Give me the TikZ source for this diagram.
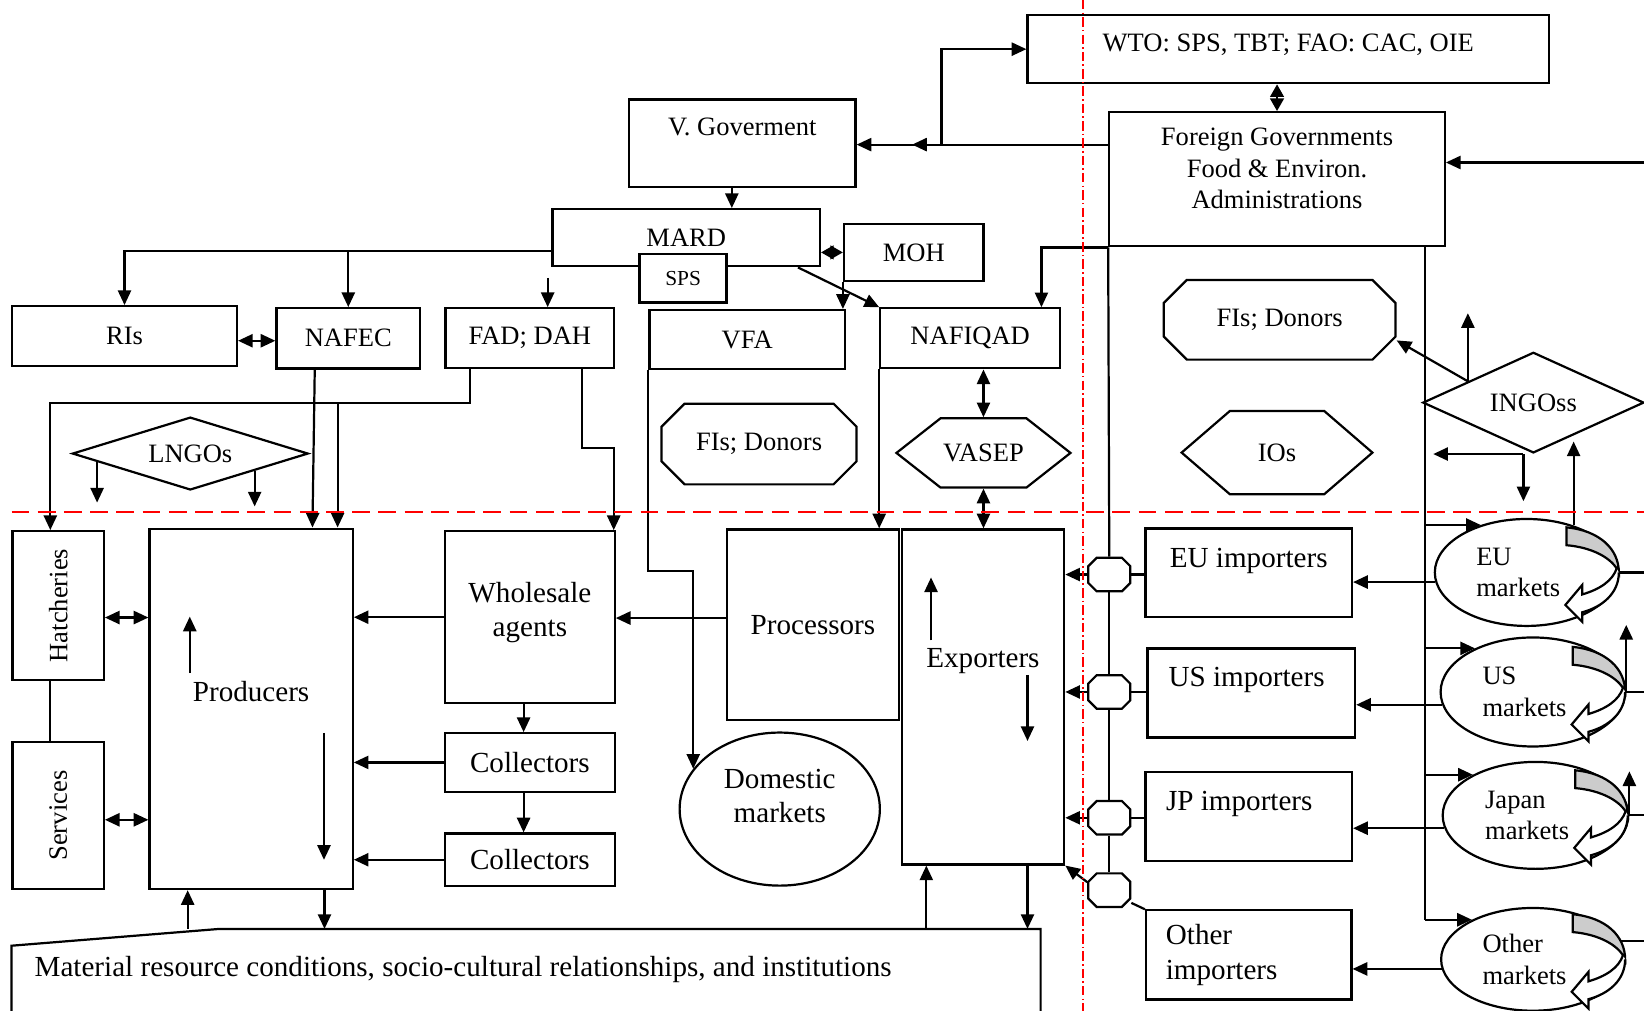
\documentclass[tikz,border=0pt]{standalone}
\usepackage{fontspec}
\setmainfont{Liberation Serif}
\usepackage{graphicx}
\usetikzlibrary{arrows.meta,shapes.geometric}
\newcommand{\octa}[7]{% name, cx, cy, half width, half height, cut, text
  \draw[fill=white] (#2-#4+#6,#3-#5) -- (#2+#4-#6,#3-#5) -- (#2+#4,#3-#5+#6)
    -- (#2+#4,#3+#5-#6) -- (#2+#4-#6,#3+#5) -- (#2-#4+#6,#3+#5)
    -- (#2-#4,#3+#5-#6) -- (#2-#4,#3-#5+#6) -- cycle;
  \node[minimum width=#4*0.2mm, minimum height=#5*0.2mm, inner sep=0pt] (#1) at (#2,#3) {#7};}
\newcommand{\hexa}[7]{% name, cx, cy, half width, half height, inset, text
  \draw[fill=white] (#2-#4,#3) -- (#2-#4+#6,#3-#5) -- (#2+#4-#6,#3-#5) -- (#2+#4,#3)
    -- (#2+#4-#6,#3+#5) -- (#2-#4+#6,#3+#5) -- cycle;
  \node[minimum width=#4*0.2mm, minimum height=#5*0.2mm, inner sep=0pt] (#1) at (#2,#3) {#7};}
\newcommand{\swirl}[2]{% cx, cy of a market
  \draw[fill=black!20] (#1+38,#2-43) .. controls (#1+70,#2-40) and (#1+88,#2-22) .. (#1+88,#2)
    .. controls (#1+82,#2-14) and (#1+62,#2-24) .. (#1+38,#2-26) -- cycle;
  \draw[fill=white] (#1+88,#2) .. controls (#1+88,#2+20) and (#1+72,#2+33) .. (#1+53,#2+38)
    -- (#1+53,#2+47) -- (#1+37,#2+31) -- (#1+53,#2+12) -- (#1+53,#2+21)
    .. controls (#1+70,#2+16) and (#1+82,#2+8) .. (#1+86,#2-4);}
\newcommand{\lift}[2]{\raisebox{#1}[0pt][0pt]{\begin{tabular}{@{}c@{}}#2\end{tabular}}}
\tikzset{
  box/.style={draw, fill=white, inner sep=0pt},
  chain/.style={font=\fontsize{7.9}{9.3}\selectfont},
  arr/.style={-{Triangle[length=1.4mm,width=1.25mm]}},
  dbl/.style={{Triangle[length=1.4mm,width=1.25mm]}-{Triangle[length=1.4mm,width=1.25mm]}},
  dia/.style={{Triangle[length=1.2mm,width=1.3mm]}-{Triangle[length=1.2mm,width=1.3mm]}},
  mkt/.style={ellipse, draw, fill=white, inner sep=0pt, align=left, text width=9.6mm,
              minimum width=17.5mm, minimum height=10.2mm},
  ngo/.style={diamond, draw, fill=white, inner sep=0pt},
  redh/.style={red, line width=0.6pt, dash pattern=on 1.7mm off 0.8mm},
  redv/.style={red, line width=0.5pt, dash pattern=on 0.9mm off 0.3mm on 0.15mm off 0.3mm},
}
\begin{document}
\begin{tikzpicture}[x=0.1mm, y=-0.1mm, line width=0.6pt, font=\fontsize{7.2}{8.5}\selectfont]
  \useasboundingbox (0,0) rectangle (1568,964);

  % --- institutions ----------------------------------------------------
  \node[box, minimum width=49.75mm, text height=3.5mm, text depth=3.0mm] (wto) at (1228.75,46.9) {WTO: SPS, TBT; FAO: CAC, OIE};
  \node[box, minimum width=32mm, minimum height=12.8mm] (fg) at (1218,171) {\lift{0.17mm}{Foreign Governments\\Food \& Environ.\\Administrations}};
  \node[box, minimum width=21.6mm, text height=3.4mm, text depth=4.9mm] (vg) at (708,136.5) {V. Goverment};
  \node[box, minimum width=25.5mm, minimum height=5.45mm] (mard) at (654.5,226.75) {MARD};
  \node[box, font=\fontsize{5.8}{7}\selectfont, minimum width=8.3mm, minimum height=4.6mm] (sps) at (651.5,265.5) {SPS};
  \node[box, minimum width=13.3mm, minimum height=5.45mm] (moh) at (871.5,240.75) {MOH};
  \node[box, minimum width=21.45mm, minimum height=5.7mm] (ris) at (118.75,320.5) {RIs};
  \node[box, minimum width=13.7mm, minimum height=5.75mm] (nafec) at (332.2,322.7) {NAFEC};
  \node[box, minimum width=16.07mm, minimum height=5.7mm] (fad) at (505.35,322.5) {FAD; DAH};
  \node[box, minimum width=18.66mm, minimum height=5.66mm] (vfa) at (712.7,324) {VFA};
  \node[box, minimum width=17.14mm, minimum height=5.73mm] (nafiqad) at (925.3,322.7) {NAFIQAD};
  \octa{fil}{724}{423.5}{93}{38.5}{22}{FIs; Donors}
  \octa{fir}{1220.5}{305}{110.5}{38}{22}{FIs; Donors}
  \hexa{vasep}{938}{432}{83}{33}{42}{VASEP}
  \hexa{ios}{1218}{431.7}{91}{39.7}{46}{IOs}
  \node[ngo, minimum width=22.5mm, minimum height=6.95mm, shape aspect=3.2] (lngo) at (181.5,432.6) {LNGOs};

  % --- chain -----------------------------------------------------------
  \node[box, minimum width=8.7mm, minimum height=14.17mm] (hat) at (55.5,577.5) {\rotatebox{90}{Hatcheries}};
  \node[box, minimum width=8.7mm, minimum height=14.03mm] (ser) at (55.5,777.9) {\rotatebox{90}{Services}};
  \node[box, chain, minimum width=19.38mm, text height=16.5mm, text depth=17.88mm] (prod) at (239.5,676.1) {Producers};
  \node[box, chain, minimum width=16.18mm, minimum height=16.4mm] (whole) at (505.4,588.7) {\lift{-0.3mm}{Wholesale\\agents}};
  \node[box, chain, minimum width=16.18mm, minimum height=5.57mm] (coll1) at (505.4,727.2) {Collectors};
  \node[box, chain, minimum width=16.18mm, minimum height=5.0mm] (coll2) at (505.4,820) {Collectors};
  \node[box, chain, minimum width=16.47mm, minimum height=18.2mm] (proc) at (775.4,596) {Processors};
  \node[box, chain, minimum width=15.5mm, text height=13.2mm, text depth=18.75mm] (exp) at (937.5,664.75) {Exporters};
  \node[ellipse, draw, fill=white, chain, inner sep=0pt, minimum width=19.1mm, minimum height=14.6mm] (dom) at (743.7,771.7) {\lift{0.3mm}{Domestic\\markets}};

  % --- importers and markets ------------------------------------------
  \node[box, chain, minimum width=19.7mm, text height=3.7mm, text depth=4.77mm] (eui) at (1191,546.5) {EU importers};
  \node[box, chain, minimum width=19.8mm, text height=3.65mm, text depth=4.83mm] (usi) at (1193.5,661) {US importers\hspace*{0.9mm}};
  \node[box, chain, minimum width=19.7mm, text height=3.65mm, text depth=4.82mm] (jpi) at (1191,778.8) {JP importers\hspace*{1.8mm}};
  \node[box, chain, align=left, text width=15.8mm, inner xsep=1.9mm, minimum height=8.5mm] (oti) at (1191,910.8) {Other\\importers};
  \node[mkt] (eum) at (1456,546) {EU\\markets};
  \node[mkt, minimum width=17.6mm, minimum height=10.4mm] (usm) at (1462,660) {US\\markets};
  \node[mkt, minimum width=17.7mm] (jpm) at (1464.5,777.7) {Japan\\markets};
  \node[mkt, minimum height=9.8mm] (otm) at (1462,915) {Other\\markets};
  \swirl{1456}{546}
  \swirl{1462}{660}
  \swirl{1464.5}{777.7}
  \swirl{1462}{915}

  \coordinate (rim) at (1568,0);
  \coordinate (rsp) at ([xshift=-2mm]fg.south east);
  \draw (rsp) -- (rsp |- otm.147);
  \node[ngo, minimum width=21.1mm, minimum height=9.6mm, shape aspect=2.2] (ingo) at (1462.5,384) {INGOss};
  \octa{o1}{1058}{548}{20}{16}{8}{}
  \octa{o2}{1058}{660}{20}{16}{8}{}
  \octa{o3}{1058}{780}{20}{16}{8}{}
  \octa{o4}{1058}{849}{20}{16}{8}{}
  \draw (fg.south west) -- (o1.north);
  \draw (o1.south) -- (o2.north);
  \draw (o2.south) -- (o3.north);
  \draw (o3.south) -- (o4.north);

  % --- material base ---------------------------------------------------
  \draw (11,902) coordinate (matA) -- (209,886) coordinate (matB) -- (992.5,886) coordinate (matC)
    -- (992.5,990) -- (11,990) -- cycle;
  \node[chain, anchor=west, inner sep=0pt] (mat) at (32,925) {Material resource conditions, socio-cultural relationships, and institutions};

  % --- links above -----------------------------------------------------
  \coordinate (fgw) at ([yshift=-3.2mm]fg.north west);
  \draw[arr] (fgw) -- (fgw -| vg.east);
  \draw[arr] (fgw) -- ++(-187,0);
  \draw[arr] (fgw) ++(-159,0) |- (wto.west);
  \draw[dia] (wto.south -| fg.north) -- (fg.north);
  \coordinate (fgin) at ([yshift=1.6mm]fg.east);
  \draw[arr] (fgin -| rim) -- (fgin);
  \draw[arr] ([xshift=-1mm]vg.south) -- ([xshift=-1mm]vg.south |- mard.north);
  \draw[dia] (mard.east |- moh.west) -- (moh.west);
  \coordinate (mardl) at ([yshift=-1.3mm]mard.west);
  \draw[arr] (mardl) -| (ris.north);
  \draw[arr] (nafec.north |- mardl) -- (nafec.north);
  \draw[arr] ([xshift=1.7mm,yshift=2.8mm]fad.north) -- ([xshift=1.7mm]fad.north);
  \draw[dbl] (ris.east |- 0,325) -- (nafec.west |- 0,325);
  \draw[arr] ([xshift=-2.2mm]mard.south east) -- (nafiqad.north west);
  \draw[arr] (moh.south west) -- (moh.south west |- vfa.north);
  \draw[arr] (fg.south west) -| ([xshift=6.8mm]nafiqad.north);
  \draw[dbl] (vasep.north |- nafiqad.south) -- (vasep.north);
  \draw[dbl] (vasep.south) -- (vasep.south |- exp.north);
  \draw[arr] (nafiqad.south west) -- (nafiqad.south west |- proc.north);
  \draw[arr] (vfa.south west) -- ++(0,191) -| (dom.155);
  \coordinate (fadl) at ([xshift=2.4mm]fad.south west);
  \coordinate (fadk) at ([yshift=-3.2mm]fadl);
  \coordinate (prodk) at ([xshift=8.25mm]prod.north);
  \draw[arr] (fadl) -- (fadk) -| ([xshift=-0.75mm]hat.north);
  \draw[arr] (prodk |- fadk) -- (prodk);
  \draw[arr] ([xshift=-3.2mm]nafec.south) -- ([xshift=5.85mm]prod.north);
  \draw[arr] ([xshift=-3.2mm]fad.south east) -- ++(0,75) -| ([xshift=-0.2mm]whole.north east);
  \draw[arr] (lngo.185) -- ++(0,39);
  \draw[arr] (lngo.-15) -- ++(0,34);
  \draw[arr] (ingo.162) -- (fir.-10);
  \draw[arr] (ingo.162) -- ++(0,-65);
  \coordinate (ingb) at ([xshift=-0.95mm]ingo.south);
  \draw[arr] (ingb) -- ++(-86,0);
  \draw[arr] (ingb) -- ++(0,45);

  % --- links in the chain ----------------------------------------------
  \draw ([xshift=-0.75mm]hat.south) -- ([xshift=-0.75mm]ser.north);
  \coordinate (hate) at ([yshift=-1.15mm]hat.east);
  \coordinate (sere) at ([yshift=-0.4mm]ser.east);
  \draw[dbl] (hate) -- (hate -| prod.west);
  \draw[dbl] (sere) -- (sere -| prod.west);
  \draw[arr] (whole.west) -- (whole.west -| prod.east);
  \coordinate (procw) at ([yshift=0.65mm]proc.west);
  \draw[arr] (procw) -- (procw -| whole.east);
  \draw[arr] (coll1.west) -- (coll1.west -| prod.east);
  \draw[arr] (coll2.west) -- (coll2.west -| prod.east);
  \draw[arr] ([xshift=-0.6mm]whole.south) -- ([xshift=-0.6mm]coll1.north);
  \draw[arr] ([xshift=-0.6mm]coll1.south) -- ([xshift=-0.6mm]coll2.north);
  \draw[arr] (prod.center) ++(-58.5,-34) -- ++(0,-54);
  \draw[arr] (prod.center) ++(69.5,23) -- ++(0,121);
  \draw[arr] (exp.center) ++(-49.5,-54) -- ++(0,-60);
  \draw[arr] (exp.center) ++(42.5,-21) -- ++(0,63);
  \coordinate (pm1) at ([xshift=-6.05mm]prod.south);
  \coordinate (pm2) at ([xshift=7mm]prod.south);
  \coordinate (em1) at ([xshift=-5.4mm]exp.south);
  \coordinate (em2) at ([xshift=4.25mm]exp.south);
  \draw[arr] (pm1 |- matB) -- (pm1);
  \draw[arr] (pm2) -- (pm2 |- matB);
  \draw[arr] (em1 |- matC) -- (em1);
  \draw[arr] (em2) -- (em2 |- matC);

  % --- links on the import side ----------------------------------------
  \draw[arr] (o1.west) -- (o1.west -| exp.east);
  \draw[arr] (o2.west) -- (o2.west -| exp.east);
  \draw[arr] (o3.west) -- (o3.west -| exp.east);
  \draw[arr] (o4.160) -- (exp.south east);
  \draw (o1.east) -- (o1.east -| eui.west);
  \draw (o2.east) -- (o2.east -| usi.west);
  \draw (o3.east) -- (o3.east -| jpi.west);
  \draw (o4.-30) -- (oti.north west);
  \draw[arr] (rsp |- eum.134) -- (eum.134);
  \draw[arr] (rsp |- usm.143) -- (usm.143);
  \draw[arr] (rsp |- jpm.147) -- (jpm.147);
  \draw[arr] (rsp |- otm.147) -- (otm.147);
  \draw[arr] (eum.186) -- (eum.186 -| eui.east);
  \draw[arr] (usm.188) -- (usm.188 -| usi.east);
  \draw[arr] (jpm.188) -- (jpm.188 -| jpi.east);
  \draw[arr] (otm.186) -- (otm.186 -| oti.east);
  \draw (eum.east) -- (eum.east -| rim);
  \draw (usm.east) -- (usm.east -| rim);
  \draw (jpm.east) -- (jpm.east -| rim);
  \draw (otm.12) -- (otm.12 -| rim);
  \draw[arr] (usm.east) -- ++(0,-64);
  \draw[arr] (jpm.east) -- ++(0,-42);
  \draw[arr] (eum.45) -- ++(0,-80);

  % --- borders ---------------------------------------------------------
  \draw[redh] (11,488) -- (1568,488);
  \draw[redv] (1033,0) -- (1033,964);
\end{tikzpicture}
\end{document}
